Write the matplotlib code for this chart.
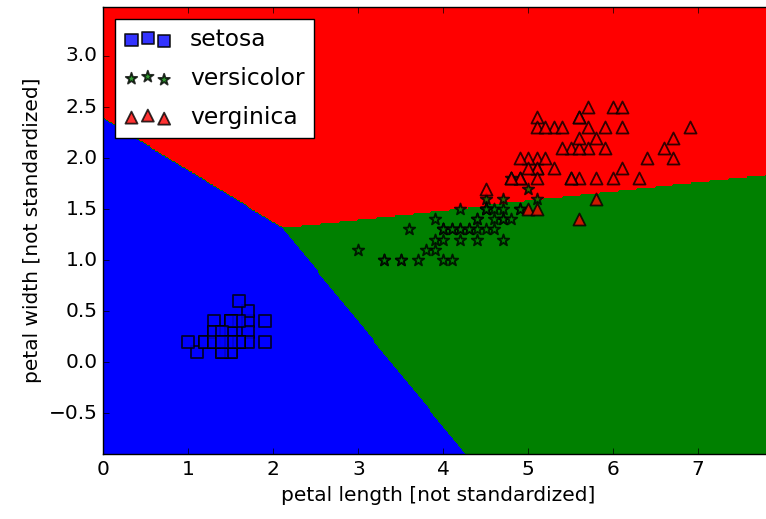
import numpy as np
import matplotlib
matplotlib.use("Agg")
import matplotlib.pyplot as plt
from matplotlib.colors import ListedColormap

plt.style.use('classic')
plt.rcParams['font.size'] = 14.5

# iris petal length / width
setosa_len = [1.4, 1.4, 1.3, 1.5, 1.4, 1.7, 1.4, 1.5, 1.4, 1.5, 1.5, 1.6, 1.4, 1.1, 1.2, 1.5, 1.3,
              1.4, 1.7, 1.5, 1.7, 1.5, 1.0, 1.7, 1.9, 1.6, 1.6, 1.5, 1.4, 1.6, 1.6, 1.5, 1.5, 1.4,
              1.5, 1.2, 1.3, 1.4, 1.3, 1.5, 1.3, 1.3, 1.3, 1.6, 1.9, 1.4, 1.6, 1.4, 1.5, 1.4]
setosa_wid = [0.2, 0.2, 0.2, 0.2, 0.2, 0.4, 0.3, 0.2, 0.2, 0.1, 0.2, 0.2, 0.1, 0.1, 0.2, 0.4, 0.4,
              0.3, 0.3, 0.3, 0.2, 0.4, 0.2, 0.5, 0.2, 0.2, 0.4, 0.2, 0.2, 0.2, 0.2, 0.4, 0.1, 0.2,
              0.2, 0.2, 0.2, 0.1, 0.2, 0.2, 0.3, 0.3, 0.2, 0.6, 0.4, 0.3, 0.2, 0.2, 0.2, 0.2]
versicolor_len = [4.7, 4.5, 4.9, 4.0, 4.6, 4.5, 4.7, 3.3, 4.6, 3.9, 3.5, 4.2, 4.0, 4.7, 3.6, 4.4, 4.5,
                  4.1, 4.5, 3.9, 4.8, 4.0, 4.9, 4.7, 4.3, 4.4, 4.8, 5.0, 4.5, 3.5, 3.8, 3.7, 3.9, 5.1,
                  4.5, 4.5, 4.7, 4.4, 4.1, 4.0, 4.4, 4.6, 4.0, 3.3, 4.2, 4.2, 4.2, 4.3, 3.0, 4.1]
versicolor_wid = [1.4, 1.5, 1.5, 1.3, 1.5, 1.3, 1.6, 1.0, 1.3, 1.4, 1.0, 1.5, 1.0, 1.4, 1.3, 1.4, 1.5,
                  1.0, 1.5, 1.1, 1.8, 1.3, 1.5, 1.2, 1.3, 1.4, 1.4, 1.7, 1.5, 1.0, 1.1, 1.0, 1.2, 1.6,
                  1.5, 1.6, 1.5, 1.3, 1.3, 1.3, 1.2, 1.4, 1.2, 1.0, 1.3, 1.2, 1.3, 1.3, 1.1, 1.3]
virginica_len = [6.0, 5.1, 5.9, 5.6, 5.8, 6.6, 4.5, 6.3, 5.8, 6.1, 5.1, 5.3, 5.5, 5.0, 5.1, 5.3, 5.5,
                 6.7, 6.9, 5.0, 5.7, 4.9, 6.7, 4.9, 5.7, 6.0, 4.8, 4.9, 5.6, 5.8, 6.1, 6.4, 5.6, 5.1,
                 5.6, 6.1, 5.6, 5.5, 4.8, 5.4, 5.6, 5.1, 5.1, 5.9, 5.7, 5.2, 5.0, 5.2, 5.4, 5.1]
virginica_wid = [2.5, 1.9, 2.1, 1.8, 2.2, 2.1, 1.7, 1.8, 1.8, 2.5, 2.0, 1.9, 2.1, 2.0, 2.4, 2.3, 1.8,
                 2.2, 2.3, 1.5, 2.3, 2.0, 2.0, 1.8, 2.1, 1.8, 1.8, 1.8, 2.1, 1.6, 1.9, 2.0, 2.2, 1.5,
                 1.4, 2.3, 2.4, 1.8, 1.8, 2.1, 2.4, 2.3, 1.9, 2.3, 2.5, 2.3, 1.9, 2.0, 2.3, 1.8]

labels = ['setosa', 'versicolor', 'verginica']
markers = ['s', '*', '^']
colors = ['blue', 'green', 'red']

# linear decision function (one score per class), estimated from the region borders
W = np.array([[-6.73, -6.53], [0.0, 0.0], [-0.52, 5.68]])
b = np.array([22.84, 0.0, -6.40])

X = [(setosa_len, setosa_wid), (versicolor_len, versicolor_wid), (virginica_len, virginica_wid)]
all_len = setosa_len + versicolor_len + virginica_len
all_wid = setosa_wid + versicolor_wid + virginica_wid

res = 0.02
x1_min, x1_max = min(all_len) - 1, max(all_len) + 1
x2_min, x2_max = min(all_wid) - 1, max(all_wid) + 1
xx1, xx2 = np.meshgrid(np.arange(x1_min, x1_max, res), np.arange(x2_min, x2_max, res))
grid = np.c_[xx1.ravel(), xx2.ravel()]
Z = np.argmax(grid @ W.T + b, axis=1).reshape(xx1.shape)

fig = plt.figure(figsize=(7.66, 5.19), dpi=100, facecolor='white')
ax = fig.add_axes([0.1351, 0.1252, 0.874, 0.8613])
cmap = ListedColormap(colors)
ax.contourf(xx1, xx2, Z, levels=[-0.5, 0.5, 1.5, 2.5], cmap=cmap)
ax.set_xlim(xx1.min(), xx1.max())
ax.set_ylim(xx2.min(), xx2.max())

for idx, (lx, wy) in enumerate(X):
    ax.scatter(lx, wy, alpha=0.8, c=colors[idx], marker=markers[idx], s=75,
               edgecolors='black', linewidths=1.3, label=labels[idx])

ax.set_xlabel('petal length [not standardized]')
ax.set_ylabel('petal width [not standardized]')
ax.legend(loc='upper left', fontsize=16.8, labelspacing=0.68)

fig.savefig('out.png', dpi=100, facecolor='white')
